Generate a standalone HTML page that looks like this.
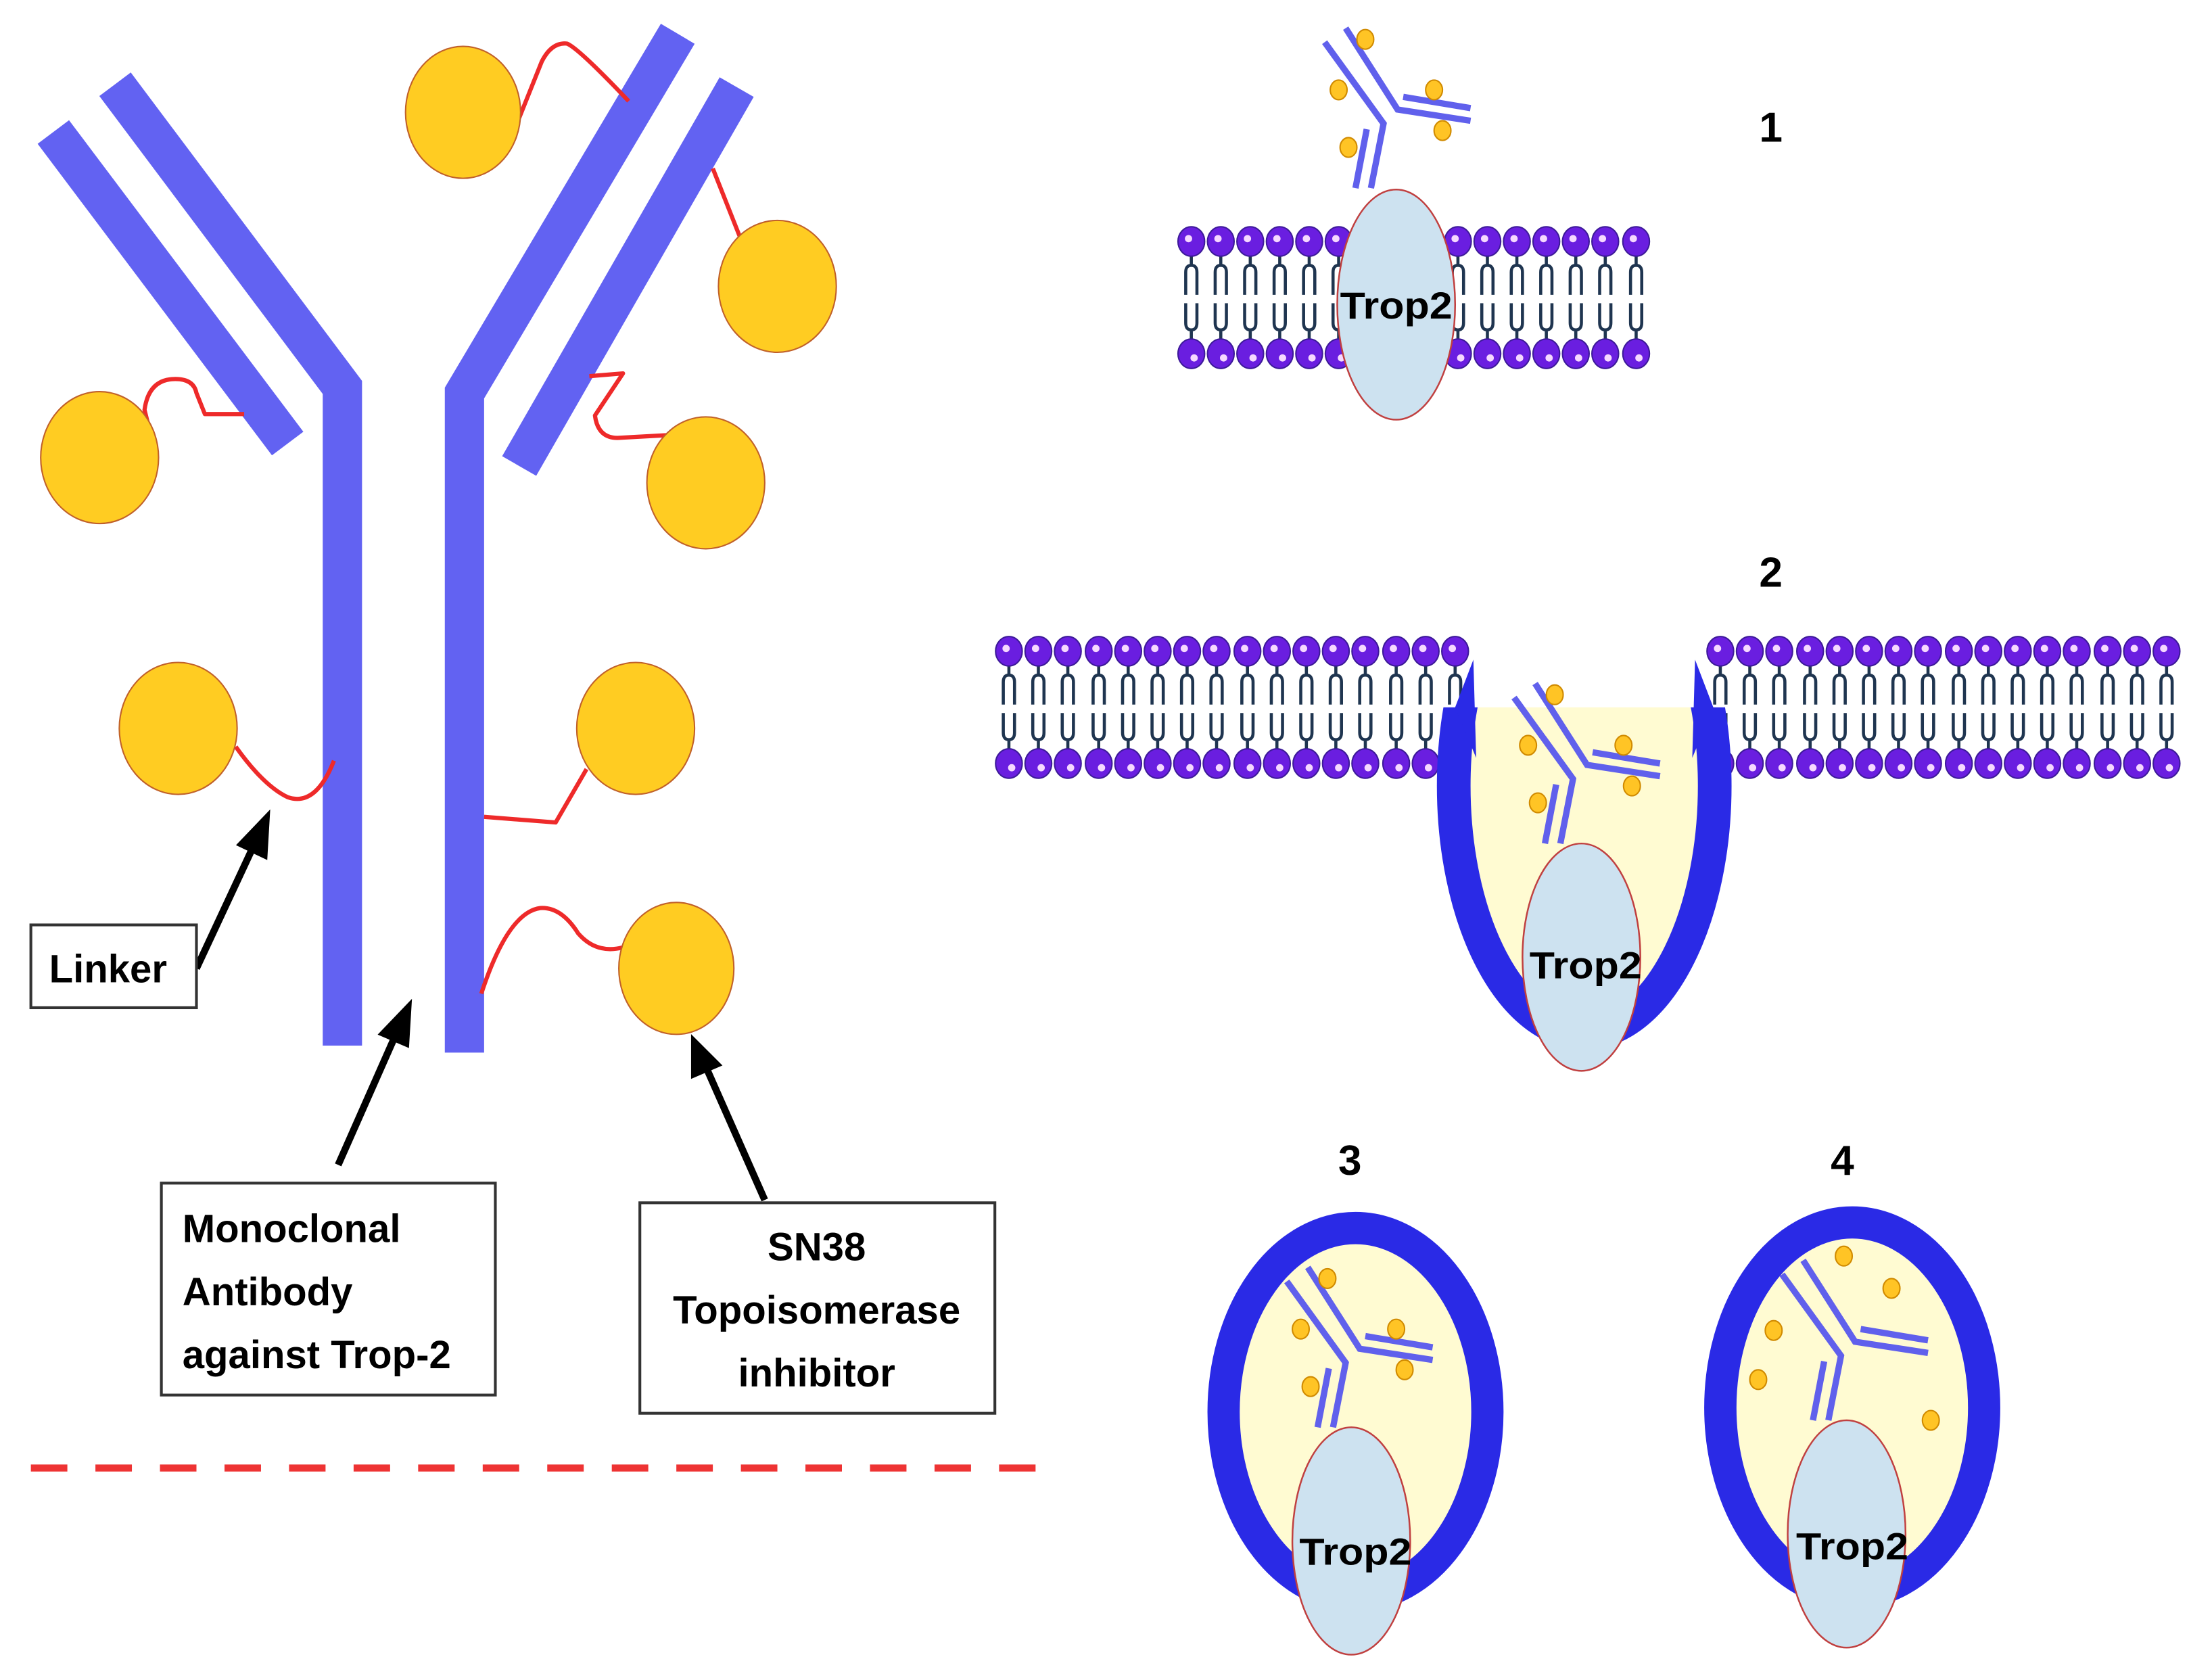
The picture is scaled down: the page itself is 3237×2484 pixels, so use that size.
<!DOCTYPE html>
<html><head><meta charset="utf-8"><style>
html,body{margin:0;padding:0;background:#fff}
svg{display:block}
text{font-family:"Liberation Sans",sans-serif;font-weight:bold;fill:#000}
</style></head><body>
<svg width="3237" height="2484" viewBox="0 0 1560 1197" xmlns="http://www.w3.org/2000/svg">
<defs>
<g id="lip">
<path d="M0,10 V17 M-4,38 V22 Q-4,17 0,17 Q4,17 4,22 V38 M-4,44 V58 Q-4,63 0,63 Q4,63 4,58 V44 M0,63 V70" fill="none" stroke="#1f3550" stroke-width="2.2"/>
<ellipse cx="0" cy="0" rx="9.5" ry="10.5" fill="#6a1ee0" stroke="#3d1a99" stroke-width="1"/>
<circle cx="-2" cy="-2" r="2.6" fill="#f6d8ff"/>
<ellipse cx="0" cy="80" rx="9.5" ry="10.5" fill="#6a1ee0" stroke="#3d1a99" stroke-width="1"/>
<circle cx="2" cy="83" r="2.6" fill="#f6d8ff"/>
</g>
<g id="ab" fill="none" stroke="#6060ec" stroke-width="4.5">
<polyline points="944,30 986,88 977,134"/>
<polyline points="959,20 996,78 1048,86"/>
<line x1="974" y1="92" x2="966" y2="134"/>
<line x1="1000" y1="69" x2="1048" y2="77"/>
</g>
<g id="dots" fill="#ffc425" stroke="#d08a00" stroke-width="1">
<ellipse cx="973" cy="28" rx="6" ry="7"/><ellipse cx="954" cy="64" rx="6" ry="7"/><ellipse cx="1022" cy="64" rx="6" ry="7"/><ellipse cx="1028" cy="93" rx="6" ry="7"/><ellipse cx="961" cy="105" rx="6" ry="7"/>
</g>
<clipPath id="ves2"><rect x="900" y="504" width="500" height="400"/></clipPath>
</defs>

<!-- Big antibody -->
<g fill="none" stroke="#6262f2" stroke-width="28" stroke-linejoin="miter">
<polyline points="82,60 244,276 244,745"/>
<line x1="38" y1="94" x2="205" y2="316"/>
<polyline points="483,24 331,280 331,750"/>
<line x1="525" y1="62" x2="370" y2="332"/>
</g>
<!-- linkers -->
<g fill="none" stroke="#ee2a2a" stroke-width="3" stroke-linejoin="round">
<path d="M370,84 L386,44 Q393,30 404,31 Q412,34 448,72"/>
<path d="M508,120 L527,168"/>
<path d="M108,312 L103,292 Q106,270 125,270 Q138,270 140,280 L146,295 L174,295"/>
<path d="M420,268 L444,266 L424,296 Q426,312 440,312 L476,310"/>
<path d="M168,532 Q188,560 205,568 Q225,575 238,542"/>
<path d="M345,582 L396,586 L418,548"/>
<path d="M343,708 Q362,650 385,647 Q400,646 412,665 Q425,680 444,675"/>
</g>
<!-- drug circles -->
<g fill="#ffcc22" stroke="#c0602a" stroke-width="1">
<ellipse cx="330" cy="80" rx="41" ry="47"/>
<ellipse cx="554" cy="204" rx="42" ry="47"/>
<ellipse cx="71" cy="326" rx="42" ry="47"/>
<ellipse cx="503" cy="344" rx="42" ry="47"/>
<ellipse cx="127" cy="519" rx="42" ry="47"/>
<ellipse cx="453" cy="519" rx="42" ry="47"/>
<ellipse cx="482" cy="690" rx="41" ry="47"/>
</g>
<!-- arrows -->
<g stroke="#000" stroke-width="5" fill="#000">
<line x1="140" y1="690" x2="182" y2="600"/>
<polygon points="192,578 169,602 190,612" stroke-width="1"/>
<line x1="241" y1="830" x2="283" y2="735"/>
<polygon points="293,713 270,737 291,746" stroke-width="1"/>
<line x1="545" y1="855" x2="503" y2="760"/>
<polygon points="493,738 493,768 514,759" stroke-width="1"/>
</g>
<!-- boxes -->
<g fill="#fff" stroke="#333" stroke-width="2">
<rect x="22" y="659" width="118" height="59"/>
<rect x="115" y="843" width="238" height="151"/>
<rect x="456" y="857" width="253" height="150"/>
</g>
<text x="35" y="700" font-size="28">Linker</text>
<text x="130" y="885" font-size="28">Monoclonal</text>
<text x="130" y="930" font-size="28">Antibody</text>
<text x="130" y="975" font-size="28">against Trop-2</text>
<text x="582" y="898" font-size="28" text-anchor="middle">SN38</text>
<text x="582" y="943" font-size="28" text-anchor="middle">Topoisomerase</text>
<text x="582" y="988" font-size="28" text-anchor="middle">inhibitor</text>
<line x1="22" y1="1046" x2="742" y2="1046" stroke="#ee3333" stroke-width="5" stroke-dasharray="26,20"/>

<!-- numbers -->
<text x="1262" y="101" font-size="30" text-anchor="middle">1</text>
<text x="1262" y="418" font-size="30" text-anchor="middle">2</text>
<text x="962" y="837" font-size="30" text-anchor="middle">3</text>
<text x="1313" y="837" font-size="30" text-anchor="middle">4</text>

<!-- Scene 1 -->
<g transform="translate(0,172)">
<use href="#lip" x="849"/><use href="#lip" x="870"/><use href="#lip" x="891"/><use href="#lip" x="912"/><use href="#lip" x="933"/><use href="#lip" x="954"/><use href="#lip" x="1039"/><use href="#lip" x="1060"/><use href="#lip" x="1081"/><use href="#lip" x="1102"/><use href="#lip" x="1123"/><use href="#lip" x="1144"/><use href="#lip" x="1166"/>
</g>
<use href="#ab"/><use href="#dots"/>
<ellipse cx="995" cy="217" rx="42" ry="82" fill="#cde2f0" stroke="#c04040" stroke-width="1.2"/>
<text x="995" y="227" font-size="27" text-anchor="middle" textLength="80" lengthAdjust="spacingAndGlyphs">Trop2</text>

<!-- Scene 2 membrane -->
<g transform="translate(0,464)">
<use href="#lip" x="719"/><use href="#lip" x="740"/><use href="#lip" x="761"/><use href="#lip" x="783"/><use href="#lip" x="804"/><use href="#lip" x="825"/><use href="#lip" x="846"/><use href="#lip" x="867"/><use href="#lip" x="889"/><use href="#lip" x="910"/><use href="#lip" x="931"/><use href="#lip" x="952"/><use href="#lip" x="973"/><use href="#lip" x="995"/><use href="#lip" x="1016"/><use href="#lip" x="1037"/>
<use href="#lip" x="1226"/><use href="#lip" x="1247"/><use href="#lip" x="1268"/><use href="#lip" x="1290"/><use href="#lip" x="1311"/><use href="#lip" x="1332"/><use href="#lip" x="1353"/><use href="#lip" x="1374"/><use href="#lip" x="1396"/><use href="#lip" x="1417"/><use href="#lip" x="1438"/><use href="#lip" x="1459"/><use href="#lip" x="1480"/><use href="#lip" x="1502"/><use href="#lip" x="1523"/><use href="#lip" x="1544"/>
</g>
<g clip-path="url(#ves2)">
<ellipse cx="1129" cy="560" rx="93" ry="176" fill="#fffbd2" stroke="#2a2ae6" stroke-width="24"/>
</g>
<polygon points="1037,504 1050,470 1052,540" fill="#2a2ae6"/>
<polygon points="1221,504 1208,470 1206,540" fill="#2a2ae6"/>
<g transform="translate(135,467)"><use href="#ab"/><use href="#dots"/></g>
<ellipse cx="1127" cy="682" rx="42" ry="81" fill="#cde2f0" stroke="#c04040" stroke-width="1.2"/>
<text x="1130" y="697" font-size="27" text-anchor="middle" textLength="80" lengthAdjust="spacingAndGlyphs">Trop2</text>

<!-- Scene 3 -->
<ellipse cx="966" cy="1006" rx="94" ry="131" fill="#fffbd2" stroke="#2a2ae6" stroke-width="23"/>
<g transform="translate(-27,883)"><use href="#ab"/><use href="#dots"/></g>
<ellipse cx="963" cy="1098" rx="42" ry="81" fill="#cde2f0" stroke="#c04040" stroke-width="1.2"/>
<text x="966" y="1115" font-size="27" text-anchor="middle" textLength="80" lengthAdjust="spacingAndGlyphs">Trop2</text>

<!-- Scene 4 -->
<ellipse cx="1320" cy="1003" rx="94" ry="132" fill="#fffbd2" stroke="#2a2ae6" stroke-width="23"/>
<g transform="translate(326,878)"><use href="#ab"/></g>
<g fill="#ffc425" stroke="#d08a00" stroke-width="1">
<ellipse cx="1314" cy="895" rx="6" ry="7"/><ellipse cx="1348" cy="918" rx="6" ry="7"/><ellipse cx="1264" cy="948" rx="6" ry="7"/><ellipse cx="1253" cy="983" rx="6" ry="7"/><ellipse cx="1376" cy="1012" rx="6" ry="7"/>
</g>
<ellipse cx="1316" cy="1093" rx="42" ry="81" fill="#cde2f0" stroke="#c04040" stroke-width="1.2"/>
<text x="1320" y="1111" font-size="27" text-anchor="middle" textLength="80" lengthAdjust="spacingAndGlyphs">Trop2</text>
</svg>
</body></html>
